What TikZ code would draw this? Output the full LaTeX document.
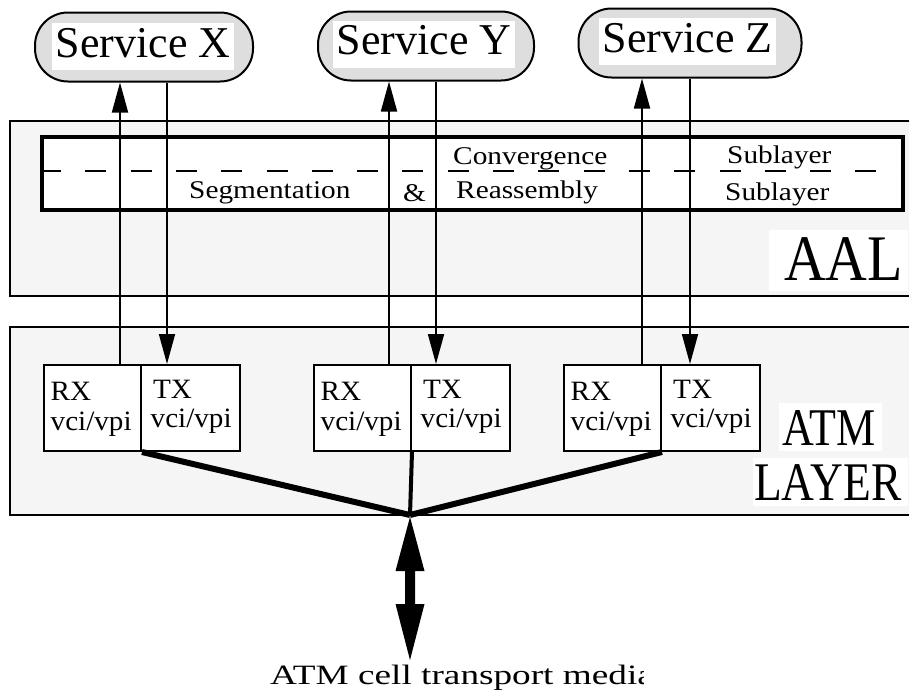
\documentclass[tikz,border=0pt]{standalone}
\usepackage{fontspec}
\setmainfont{Liberation Serif}
\usepackage{graphicx}
\usetikzlibrary{arrows.meta,calc}

\definecolor{layerfill}{RGB}{245,245,245}
\definecolor{svcfill}{RGB}{222,222,222}

% horizontal stretch of a piece of text
\newcommand\hscale[2]{\scalebox{#1}[1]{#2}}

\begin{document}
\begin{tikzpicture}[x=1pt,y=-1pt,
  layerbox/.style={draw,line width=2pt,fill=layerfill},
  subbox/.style={draw,line width=4.3pt,fill=white},
  svc/.style={draw,line width=2pt,fill=svcfill,rounded corners=33pt,
    minimum height=69pt,inner sep=0pt},
  svclabel/.style={fill=white,inner xsep=3.5pt,inner ysep=0pt,
    text height=34pt,text depth=13pt,font=\fontsize{44pt}{48pt}\selectfont},
  vcbox/.style={draw,line width=2pt,fill=white,minimum height=86pt,
    inner sep=0pt,anchor=north west},
  small/.style={inner sep=0pt,anchor=base west,font=\fontsize{28pt}{30pt}\selectfont},
  sar/.style={inner sep=0pt,anchor=base west,font=\fontsize{25.5pt}{27pt}\selectfont},
  whitebg/.style={fill=white,inner sep=0pt,anchor=north west},
  flow/.style={line width=1.8pt,-{Triangle[length=30pt,width=16pt]}},
  trunk/.style={line width=6pt}]

\useasboundingbox (0,0) rectangle (909,696);
\clip (0,0) rectangle (909,696);

% ---------------- AAL layer ----------------
\path[layerbox] (10,121) rectangle (940,296);
\path[subbox] (42,137) rectangle (903,210);
\draw[line width=2pt,dash pattern=on 21pt off 24.3pt] (40,171) -- (903,171);

\node[sar] (conv)  at (453,164)   {\hscale{1.15}{Convergence}};
\node[sar] (subA)  at (727,163.5) {\hscale{1.15}{Sublayer}};
\node[sar] (segm)  at (189,198)   {\hscale{1.15}{Segmentation}};
\node[sar] (amp)   at (403,201)   {\hscale{1.15}{\&}};
\node[sar] (reas)  at (456,198.3) {\hscale{1.15}{Reassembly}};
\node[sar] (subB)  at (725,200)   {\hscale{1.15}{Sublayer}};

\node[whitebg,minimum width=139pt,minimum height=61pt] (aalbg) at (769,230) {};
\node[inner sep=0pt,anchor=base west,font=\fontsize{65pt}{70pt}\selectfont]
  (aal) at (784,280) {\hscale{0.89}{AAL}};

% ---------------- ATM layer ----------------
\path[layerbox] (10,327) rectangle (940,515);

\node[whitebg,minimum width=103pt,minimum height=48pt] (atmbg) at (779,402.7) {};
\node[inner sep=0pt,anchor=base west,font=\fontsize{53pt}{56pt}\selectfont]
  (atm) at (782,445) {\hscale{0.83}{ATM}};
\node[whitebg,minimum width=155pt,minimum height=48pt] (layerbg) at (753,458) {};
\node[inner sep=0pt,anchor=base west,font=\fontsize{54.4pt}{58pt}\selectfont]
  (layer) at (754,500) {\hscale{0.835}{LAYER}};

% RX / TX connection tables
\foreach \i/\x in {1/43,2/313,3/563}{
  \node[vcbox,minimum width=97pt] (rx\i) at (\x,364) {};
  \node[vcbox,minimum width=99pt] (tx\i) at (\x+97,364) {};
  \node[small] at ($(rx\i.north west)+(7.5,36)$) {\hscale{1.04}{RX}};
  \node[small] at ($(rx\i.north west)+(7.5,66)$) {\hscale{1.04}{vci/vpi}};
  \node[small] at ($(tx\i.north west)+(13,34)$) {\hscale{1.04}{TX}};
  \node[small] at ($(tx\i.north west)+(10.5,63)$) {\hscale{1.04}{vci/vpi}};
}

% cell multiplexing towards the physical medium
\coordinate (hub) at (410,515);
\draw[trunk] (rx1.south east) -- (hub);
\draw[line width=4pt] (rx2.south east) -- (hub);
\draw[trunk] (rx3.south east) -- (hub);

% ---------------- services ----------------
\node[svc,minimum width=218pt] (svcX) at (144,47) {};
\node[svc,minimum width=216pt] (svcY) at (426,46) {};
\node[svc,minimum width=223pt] (svcZ) at (690,43) {};
\node[svclabel] at (143,46.5) {Service X};
\node[svclabel] at (424,44) {Service Y};
\node[svclabel] at (687.5,41.5) {Service Z};

% receive / transmit paths
\coordinate (u1) at (120,0);   \coordinate (d1) at (167,0);
\coordinate (u2) at (389,0);   \coordinate (d2) at (436,0);
\coordinate (u3) at (642,0);   \coordinate (d3) at (690,0);
\draw[flow] (rx1.north -| u1) -- (svcX.south -| u1);
\draw[flow] (svcX.south -| d1) -- (tx1.north -| d1);
\draw[flow] (rx2.north -| u2) -- (svcY.south -| u2);
\draw[flow] (svcY.south -| d2) -- (tx2.north -| d2);
\draw[flow] (rx3.north -| u3) -- (svcZ.south -| u3);
\draw[flow] (svcZ.south -| d3) -- (tx3.north -| d3);

% bidirectional link to the transport media
\fill ($(hub)+(0,2)$) -- ++(14.5,54) -- ++(-9.5,0) -- ++(0,33) -- ++(9.5,0)
  -- ++(-14.5,56) -- ++(-14.5,-56) -- ++(9.5,0) -- ++(0,-33) -- ++(-9.5,0) -- cycle;

\begin{scope}
  \clip (0,600) rectangle (643,696);
  \node[inner sep=0pt,anchor=base west,font=\fontsize{28pt}{30pt}\selectfont]
    (media) at (270,684) {\hscale{1.33}{ATM cell transport media}};
\end{scope}
\end{tikzpicture}
\end{document}
